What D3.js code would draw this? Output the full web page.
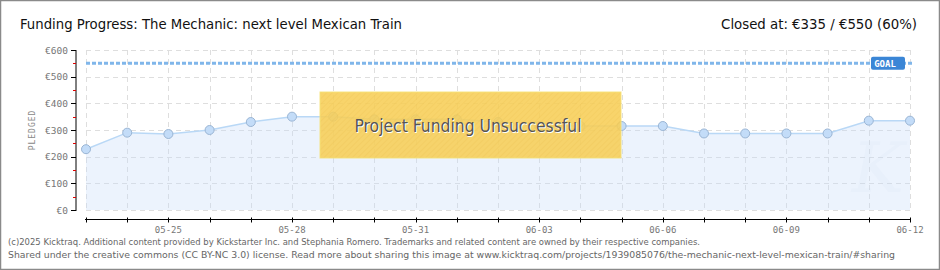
<!DOCTYPE html>
<html>
<head>
<meta charset="utf-8">
<script src="https://cdn.jsdelivr.net/npm/d3@7"></script>
<style>
  body { margin: 0; background: #fff; }
  svg { display: block; }
</style>
</head>
<body>
<div id="chart"></div>
<script>
// data
const dates = ['05-23','05-24','05-25','05-26','05-27','05-28','05-29','05-30','05-31','06-01',
    '06-02','06-03','06-04','06-05','06-06','06-07','06-08','06-09','06-10','06-11','06-12'];
const pledged = [228, 290, 285, 300, 330, 350, 350, 340, 340, 340,
    330, 315, 315, 315, 315, 287, 287, 287, 287, 335, 335];
const xLabels = ['05-25','05-28','05-31','06-03','06-06','06-09','06-12'];
const yTicks = [0, 100, 200, 300, 400, 500, 600];
const goal = 550;
const titleText = 'Funding Progress: The Mechanic: next level Mexican Train';
const closedText = 'Closed at: €335 / €550 (60%)';
const footer = [
    '(c)2025 Kicktraq. Additional content provided by Kickstarter Inc. and Stephania Romero. Trademarks and related content are owned by their respective companies.',
    'Shared under the creative commons (CC BY-NC 3.0) license. Read more about sharing this image at www.kicktraq.com/projects/1939085076/the-mechanic-next-level-mexican-train/#sharing'
];
const footerWidths = [692, 887];

const W = 940, H = 270;
const plot = { left: 86, right: 910, top: 50, bottom: 210 };

const svg = d3.select('#chart').append('svg')
    .attr('width', W).attr('height', H);

const defs = svg.append('defs');
const hatch = defs.append('pattern')
    .attr('id', 'hatch').attr('width', 4).attr('height', 4)
    .attr('patternUnits', 'userSpaceOnUse')
    .attr('patternTransform', 'rotate(45)');
hatch.append('rect').attr('width', 4).attr('height', 4).attr('fill', 'rgba(247,206,86,0.88)');
hatch.append('line').attr('x1', 0).attr('y1', 0).attr('x2', 0).attr('y2', 4)
    .attr('stroke', 'rgba(225,180,60,0.35)').attr('stroke-width', 1);

// frame
svg.append('rect').attr('x', 0.5).attr('y', 0.5).attr('width', W - 1).attr('height', H - 1)
    .attr('fill', '#fff').attr('stroke', '#8a8a8a').attr('stroke-width', 1.5);

// header
const headFont = '"DejaVu Sans Condensed", "Liberation Sans Narrow", sans-serif';
svg.append('text').attr('x', 20).attr('y', 29)
    .attr('font-family', headFont).attr('font-size', 14.8).attr('fill', '#111')
    .attr('textLength', 382).attr('lengthAdjust', 'spacingAndGlyphs').text(titleText);
svg.append('text').attr('x', 917).attr('y', 29).attr('text-anchor', 'end')
    .attr('font-family', headFont).attr('font-size', 14.8).attr('fill', '#111').text(closedText);

const x = d3.scalePoint().domain(dates).range([plot.left, plot.right]);
const y = d3.scaleLinear().domain([0, 600]).range([plot.bottom, plot.top]);

// grid
const grid = svg.append('g').attr('stroke', '#dedede').attr('stroke-dasharray', '5,4').attr('stroke-width', 1);
grid.selectAll('.gh').data(yTicks).join('line')
    .attr('x1', plot.left).attr('x2', plot.right)
    .attr('y1', d => Math.round(y(d)) + 0.5).attr('y2', d => Math.round(y(d)) + 0.5);
grid.selectAll('.gv').data(dates).join('line')
    .attr('x1', d => Math.round(x(d)) + 0.5).attr('x2', d => Math.round(x(d)) + 0.5)
    .attr('y1', plot.top).attr('y2', plot.bottom);

// watermark
svg.append('text').attr('x', 878).attr('y', 192).attr('text-anchor', 'middle')
    .attr('font-family', 'DejaVu Serif, serif').attr('font-style', 'italic')
    .attr('font-size', 70).attr('fill', 'rgba(200,210,225,0.1)').text('K');

// area + line
const area = d3.area().x((d, i) => x(dates[i])).y0(y(0)).y1(d => y(d));
svg.append('path').datum(pledged).attr('d', area).attr('fill', 'rgba(200,222,248,0.35)');
const line = d3.line().x((d, i) => x(dates[i])).y(d => y(d));
svg.append('path').datum(pledged).attr('d', line)
    .attr('fill', 'none').attr('stroke', '#b9d8f6').attr('stroke-width', 1.5);
svg.selectAll('.pt').data(pledged).join('circle')
    .attr('cx', (d, i) => x(dates[i])).attr('cy', d => y(d)).attr('r', 4.5)
    .attr('fill', '#c3dcf8').attr('stroke', '#9ab5d4').attr('stroke-width', 1);

// goal line
svg.append('line').attr('x1', plot.left).attr('x2', plot.right + 2)
    .attr('y1', y(goal)).attr('y2', y(goal))
    .attr('stroke', '#80b6ea').attr('stroke-width', 3).attr('stroke-dasharray', '4,2');
svg.append('rect').attr('x', 871).attr('y', y(goal) - 6.5).attr('width', 34).attr('height', 13)
    .attr('rx', 2).attr('fill', '#3b86d6');
svg.append('text').attr('x', 885).attr('y', y(goal) + 3.5).attr('text-anchor', 'middle')
    .attr('font-family', 'DejaVu Sans Mono, monospace').attr('font-weight', 'bold')
    .attr('font-size', 9).attr('fill', '#fff').text('GOAL');

// y axis
const yAxis = svg.append('g').attr('transform', 'translate(76,0)');
yAxis.append('line').attr('x1', 0).attr('x2', 0).attr('y1', plot.top).attr('y2', plot.bottom + 1)
    .attr('stroke', '#000');
yAxis.selectAll('.tk').data(yTicks).join('line')
    .attr('x1', -5).attr('x2', 0).attr('y1', d => Math.round(y(d)) + 0.5).attr('y2', d => Math.round(y(d)) + 0.5)
    .attr('stroke', '#000');
yAxis.selectAll('.mk').data(yTicks.slice(1)).join('line')
    .attr('x1', -3).attr('x2', 0).attr('y1', d => Math.round(y(d - 50)) + 0.5).attr('y2', d => Math.round(y(d - 50)) + 0.5)
    .attr('stroke', '#e00000');
yAxis.selectAll('.lb').data(yTicks).join('text')
    .attr('x', -8).attr('y', d => y(d) + 3.5).attr('text-anchor', 'end')
    .attr('font-family', 'DejaVu Sans Mono, monospace').attr('font-size', 9.5).attr('fill', '#777')
    .text(d => '€' + d);
svg.append('text').attr('transform', 'translate(35,130) rotate(-90)').attr('text-anchor', 'middle')
    .attr('font-family', 'DejaVu Sans Mono, monospace').attr('font-size', 8).attr('fill', '#888')
    .attr('letter-spacing', 1).text('PLEDGED');

// x axis
const xAxis = svg.append('g').attr('transform', 'translate(0,219.5)');
xAxis.append('line').attr('x1', plot.left - 1).attr('x2', plot.right + 1).attr('stroke', '#000');
xAxis.selectAll('.tk').data(dates).join('line')
    .attr('x1', d => Math.round(x(d)) + 0.5).attr('x2', d => Math.round(x(d)) + 0.5)
    .attr('y1', -2).attr('y2', 3).attr('stroke', '#000');
xAxis.selectAll('.lb').data(xLabels).join('text')
    .attr('x', d => x(d)).attr('y', 13).attr('text-anchor', 'middle')
    .attr('font-family', 'DejaVu Sans Mono, monospace').attr('font-size', 9).attr('fill', '#777')
    .text(d => d);

// unsuccessful banner
svg.append('rect').attr('x', 320).attr('y', 92).attr('width', 301).attr('height', 66)
    .attr('fill', 'url(#hatch)').attr('stroke', 'rgba(245,225,120,0.9)').attr('stroke-width', 1);
const bannerText = 'Project Funding Unsuccessful';
svg.append('text').attr('x', 469).attr('y', 133).attr('text-anchor', 'middle')
    .attr('font-family', headFont).attr('font-size', 17.5).attr('fill', '#fff')
    .attr('textLength', 227).attr('lengthAdjust', 'spacingAndGlyphs').text(bannerText);
svg.append('text').attr('x', 468).attr('y', 132).attr('text-anchor', 'middle')
    .attr('font-family', headFont).attr('font-size', 17.5).attr('fill', '#555')
    .attr('textLength', 227).attr('lengthAdjust', 'spacingAndGlyphs').text(bannerText);

// footer
svg.selectAll('.ft').data(footer).join('text')
    .attr('x', 8).attr('y', (d, i) => 245 + i * 13)
    .attr('font-family', 'DejaVu Sans, Verdana, sans-serif').attr('font-size', 9.5).attr('fill', '#666')
    .attr('textLength', (d, i) => footerWidths[i]).attr('lengthAdjust', 'spacingAndGlyphs')
    .text(d => d);
</script>
</body>
</html>
